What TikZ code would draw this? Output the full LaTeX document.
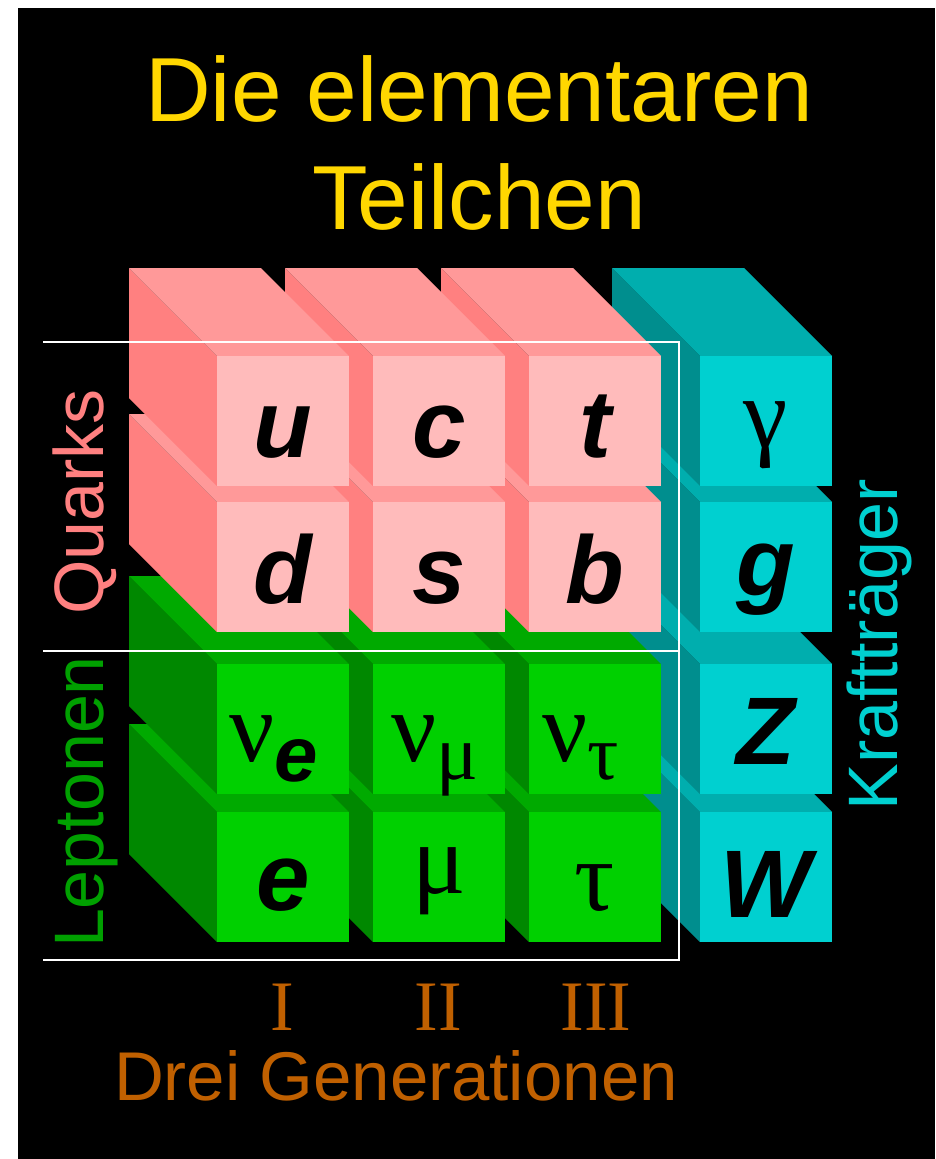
\documentclass[tikz,border=0pt]{standalone}
\usepackage{fontspec}
\setmainfont{Liberation Sans}
\newfontfamily\griech{Liberation Serif}
\usepackage{tikz}

\definecolor{qF}{RGB}{255,187,187}
\definecolor{qT}{RGB}{255,153,153}
\definecolor{qS}{RGB}{255,128,128}
\definecolor{lF}{RGB}{0,208,0}
\definecolor{lT}{RGB}{0,170,0}
\definecolor{lS}{RGB}{0,136,0}
\definecolor{bF}{RGB}{0,208,208}
\definecolor{bT}{RGB}{0,174,174}
\definecolor{bS}{RGB}{0,142,142}
\definecolor{titelgelb}{RGB}{255,215,0}
\definecolor{genorange}{RGB}{192,96,0}
\definecolor{lepgruen}{RGB}{0,160,0}

\begin{document}
\begin{tikzpicture}[x=1pt, y=-1pt,
  teil/.style={anchor=base, inner sep=0pt, text=black,
               font=\fontsize{96}{96}\selectfont\bfseries\itshape},
  gr/.style={anchor=base, inner sep=0pt, text=black,
             font=\fontsize{100}{100}\selectfont\griech},
  seite/.style={rotate=90, anchor=base, inner sep=0pt,
                font=\fontsize{70}{70}\selectfont},
  gen/.style={anchor=base, inner sep=0pt, text=genorange,
              font=\fontsize{71}{71}\selectfont\griech},
  rahmen/.style={draw=white, line width=1.5pt}]
  \useasboundingbox (0,0) rectangle (935,1159);
  \fill[white] (0,0) rectangle (935,1159);
  \fill[black] (18,8) rectangle (935,1159);
  \foreach \zei/\fam in {4/l,3/l,2/q,1/q}
    \foreach \spa in {4,3,2,1} {
      \pgfmathsetmacro\fx{{217,373,529,700}[\spa-1]}
      \pgfmathsetmacro\fy{{356,502,664,812}[\zei-1]}
      \ifnum\spa=4 \def\g{b}\else\let\g\fam\fi
      \fill[fill=\g S] (\fx,\fy) -- ++(-88,-88) -- ++(0,130) -- ++(88,88) -- cycle;
      \fill[fill=\g T] (\fx,\fy) -- ++(-88,-88) -- ++(132,0) -- ++(88,88) -- cycle;
      \fill[fill=\g F] (\fx,\fy) rectangle ++(132,130);
    }
  \draw[rahmen] (43,342) -- (679,342) -- (679,960) -- (43,960);
  \draw[rahmen] (43,651) -- (679,651);
  \node[teil] (u) at (283,457) {u};
  \node[teil] (c) at (439,457) {c};
  \node[teil] (t) at (595,457) {t};
  \node[gr] (gamma) at (766,447) {γ};
  \node[teil] (d) at (283,603) {d};
  \node[teil] (s) at (439,603) {s};
  \node[teil] (b) at (595,603) {b};
  \node[teil] (g) at (766,595) {g};
  \node[gr] (nue) at (274,761)
      {ν\lower20pt\hbox{\rmfamily\bfseries\itshape\fontsize{78}{78}\selectfont e}};
  \node[gr] (numu) at (435,761) {ν\lower18pt\hbox{\fontsize{78}{78}\selectfont μ}};
  \node[gr] (nutau) at (581,761) {ν\lower18pt\hbox{\fontsize{78}{78}\selectfont τ}};
  \node[teil] (Z) at (766,764) {Z};
  \node[teil] (e) at (283,910) {e};
  \node[gr] (mu) at (439,893) {μ};
  \node[gr] (tau) at (595,910) {τ};
  \node[teil] (W) at (766,917) {W};
  \node[seite, text=qS] (quarks) at (103,502) {Quarks};
  \node[seite, text=lepgruen] (leptonen) at (103,802) {Leptonen};
  \node[seite, text=bF] (kraft) at (897,645) {Krafttr\"ager};
  \node[anchor=north, align=center, inner sep=0pt, text=titelgelb,
        font=\fontsize{91}{108}\selectfont] (titel) at (479,55) {Die elementaren\\Teilchen};
  \node[gen] (gen1) at (282,1030) {I};
  \node[gen] (gen2) at (438,1030) {II};
  \node[gen] (gen3) at (596,1030) {III};
  \node[anchor=base, inner sep=0pt, text=genorange, font=\fontsize{69}{69}\selectfont]
       (drei) at (396,1100) {Drei Generationen};
\end{tikzpicture}
\end{document}
